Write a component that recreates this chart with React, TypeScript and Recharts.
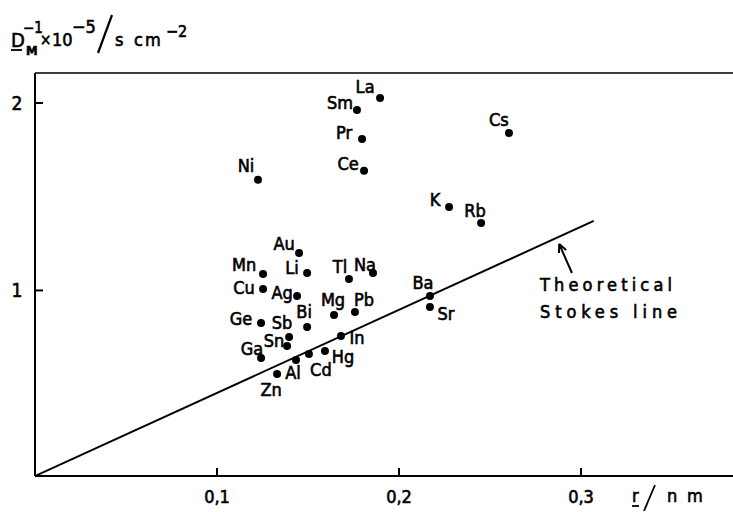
import React from "react";
import {
  ScatterChart,
  Scatter,
  XAxis,
  YAxis,
  ReferenceLine,
} from "recharts";

// measured values, r in nm, 1/D_M in 10^-5 s cm^-2
const elements = [
  "La", "Sm", "Pr", "Ce", "Ni", "Cs", "K", "Rb", "Au", "Mn",
  "Li", "Tl", "Na", "Cu", "Ag", "Mg", "Pb", "Ge", "Bi", "Sb",
  "Sn", "In", "Hg", "Ga", "Cd", "Al", "Zn", "Ba", "Sr",
];
const radius = [
  0.1896, 0.1769, 0.1797, 0.1808, 0.1225, 0.2604, 0.2275, 0.2451, 0.1451, 0.1253,
  0.1495, 0.1725, 0.1857, 0.1253, 0.144, 0.1643, 0.1758, 0.1242, 0.1495, 0.1396,
  0.1385, 0.1681, 0.1593, 0.1242, 0.1505, 0.1434, 0.133, 0.217, 0.217,
];
const invDiff = [
  2.027, 1.963, 1.808, 1.638, 1.59, 1.84, 1.445, 1.36, 1.2, 1.088,
  1.093, 1.061, 1.093, 1.008, 0.97, 0.869, 0.885, 0.826, 0.805, 0.752,
  0.704, 0.757, 0.677, 0.64, 0.661, 0.629, 0.554, 0.97, 0.912,
];

// theoretical Stokes line
const stokesR = [0, 0.307];
const stokesD = [0.01, 1.371];

const xTicks = [0.1, 0.2, 0.3];
const yTicks = [1, 2];

// where each symbol sits relative to its dot (px)
const labelPos: Record<string, [number, number]> = {
  La: [-15, -11], Sm: [-17, -7], Pr: [-18, -6], Ce: [-16, -7], Ni: [-12, -14],
  Cs: [-10, -13], K: [-14, -8], Rb: [-6, -12], Au: [-15, -9], Mn: [-19, -9],
  Li: [-15, -6], Tl: [-9, -12], Na: [-8, -9], Cu: [-19, -1], Ag: [-15, -4],
  Mg: [-1, -15], Pb: [9, -12], Ge: [-20, -5], Bi: [-3, -15], Sb: [-7, -14],
  Sn: [-13, -5], In: [16, 2], Hg: [18, 6], Ga: [-9, -9], Cd: [12, 16],
  Al: [-3, 13], Zn: [-6, 15], Ba: [-7, -14], Sr: [16, 7],
};

const points = elements.map((name, i) => ({ name, r: radius[i], d: invDiff[i] }));
const stokes = stokesR.map((r, i) => ({ r, d: stokesD[i] }));

const FONT = "'DejaVu Sans Condensed', 'DejaVu Sans', sans-serif";
const PLOT_LEFT = 35;
const PLOT_BOTTOM = 476;
const ink = { fill: "#000", stroke: "#000", strokeWidth: 0.6 };

const Dot = (props: any) => {
  const { cx, cy, payload } = props;
  const [dx, dy] = labelPos[payload.name] || [0, -12];
  return (
    <g>
      <circle cx={cx} cy={cy} r={4} fill="#000" />
      <text
        x={cx + dx}
        y={cy + dy}
        textAnchor="middle"
        dominantBaseline="central"
        fontFamily={FONT}
        fontSize={18}
        {...ink}
      >
        {payload.name}
      </text>
    </g>
  );
};

const XTick = (props: any) => {
  const { x, payload } = props;
  const y = PLOT_BOTTOM;
  return (
    <g>
      <line x1={x} y1={y} x2={x} y2={y - 8} stroke="#000" strokeWidth={2} />
      <text x={x} y={y + 27} textAnchor="middle" fontFamily={FONT} fontSize={18} {...ink}>
        {String(payload.value).replace(".", ",")}
      </text>
    </g>
  );
};

const YTick = (props: any) => {
  const { y, payload } = props;
  const x = PLOT_LEFT;
  return (
    <g>
      <line x1={x} y1={y} x2={x + 8} y2={y} stroke="#000" strokeWidth={2} />
      <text x={x - 18} y={y + 7} textAnchor="middle" fontFamily={FONT} fontSize={19} {...ink}>
        {payload.value}
      </text>
    </g>
  );
};

const Nothing = () => null;

export default function App() {
  return (
    <div style={{ position: "absolute", left: 0, top: 0, width: 733, height: 512, background: "#fff" }}>
      <ScatterChart width={733} height={512} margin={{ top: 73, right: 0, bottom: 0, left: 0 }}>
        <XAxis
          type="number"
          dataKey="r"
          domain={[0, 0.3835]}
          ticks={xTicks}
          height={36}
          tickSize={0}
          tickMargin={0}
          tickLine={false}
          tick={<XTick />}
          axisLine={{ stroke: "#000", strokeWidth: 2 }}
          allowDataOverflow
        />
        <YAxis
          type="number"
          dataKey="d"
          domain={[0.01, 2.16]}
          ticks={yTicks}
          width={35}
          tickSize={0}
          tickMargin={0}
          tickLine={false}
          tick={<YTick />}
          axisLine={{ stroke: "#000", strokeWidth: 2 }}
          allowDataOverflow
        />
        <ReferenceLine y={2.16} stroke="#000" strokeWidth={1.5} />
        <ReferenceLine
          segment={[{ x: 0.295, y: 1.093 }, { x: 0.288, y: 1.248 }]}
          stroke="#000"
          strokeWidth={2}
        />
        <ReferenceLine
          segment={[{ x: 0.2879, y: 1.2 }, { x: 0.288, y: 1.248 }]}
          stroke="#000"
          strokeWidth={2}
        />
        <ReferenceLine
          segment={[{ x: 0.2918, y: 1.216 }, { x: 0.288, y: 1.248 }]}
          stroke="#000"
          strokeWidth={2}
        />
        <Scatter
          data={stokes}
          line={{ stroke: "#000", strokeWidth: 2 }}
          shape={<Nothing />}
          isAnimationActive={false}
        />
        <Scatter data={points} shape={<Dot />} isAnimationActive={false} />
      </ScatterChart>
      <svg
        width={733}
        height={512}
        style={{ position: "absolute", left: 0, top: 0, pointerEvents: "none" }}
        fontFamily={FONT}
        fill="#000"
        stroke="#000"
        strokeWidth={0.6}
      >
        {/* y axis title */}
        <text x={11} y={47} fontSize={20}>D</text>
        <line x1={11} y1={50} x2={22} y2={50} strokeWidth={1.8} />
        <text x={23} y={33} fontSize={15}>−1</text>
        <text x={26} y={55} fontSize={13} fontWeight="bold">M</text>
        <text x={40} y={45} fontSize={15}>×</text>
        <text x={52} y={46} fontSize={18}>10</text>
        <text x={72} y={33} fontSize={18}>−5</text>
        <line x1={98} y1={53} x2={112} y2={15} strokeWidth={2.2} />
        <text x={115} y={46} fontSize={18}>s</text>
        <text x={134} y={46} fontSize={18}>c</text>
        <text x={145} y={46} fontSize={18}>m</text>
        <text x={166} y={37} fontSize={16}>−2</text>
        {/* x axis title */}
        <text x={632} y={502} fontSize={18}>r</text>
        <line x1={632} y1={506} x2={639} y2={506} strokeWidth={1.8} />
        <line x1={644} y1={511} x2={655} y2={485} strokeWidth={1.8} />
        <text x={667} y={502} fontSize={18}>n</text>
        <text x={687} y={502} fontSize={18}>m</text>
        {/* annotation */}
        <text x={540} y={291} fontSize={18} textLength={132} lengthAdjust="spacing">Theoretical</text>
        <text x={540} y={318} fontSize={18} textLength={137} lengthAdjust="spacing">Stokes line</text>
      </svg>
    </div>
  );
}
